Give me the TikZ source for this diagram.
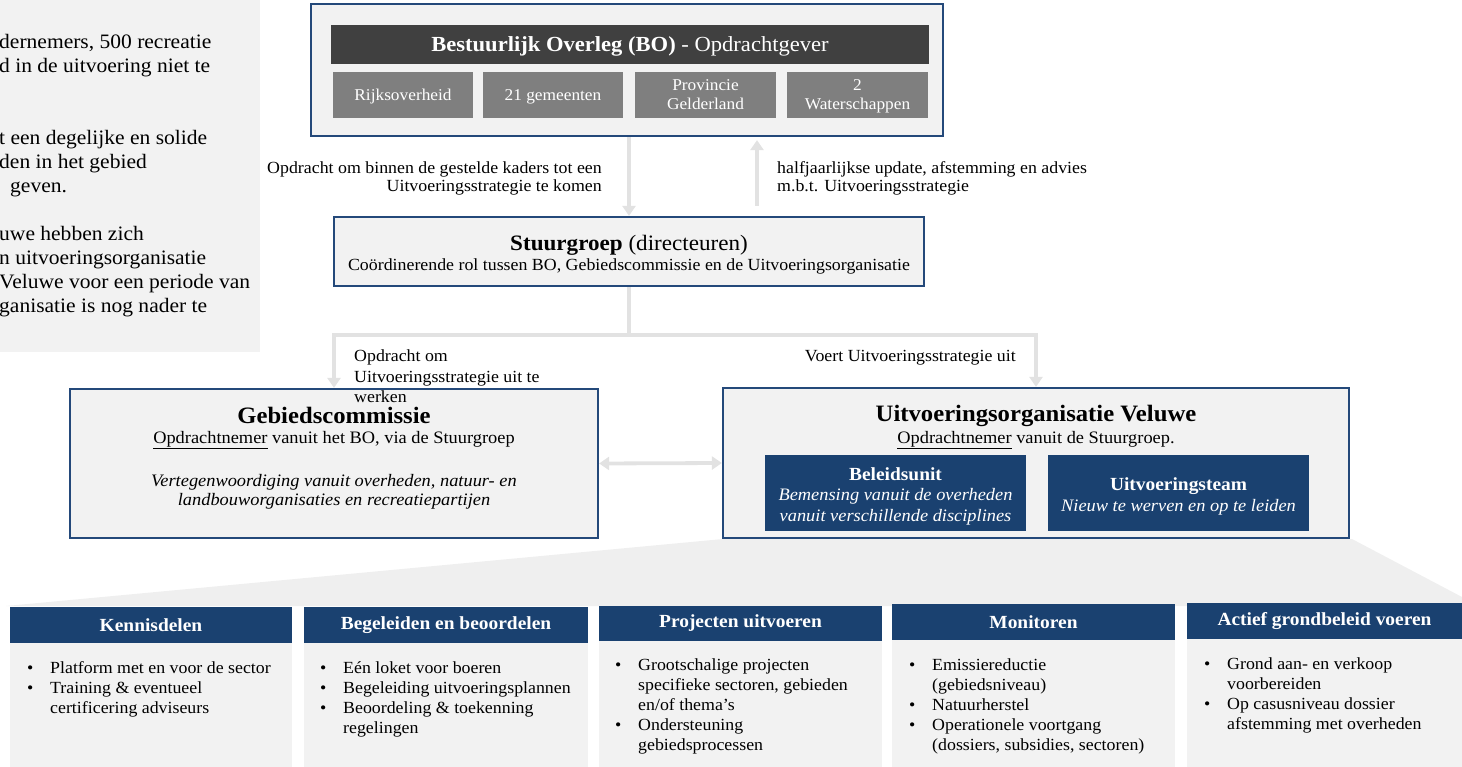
\documentclass[tikz,border=0pt]{standalone}
\usepackage{fontspec}
\setmainfont[FakeStretch=1.05]{Liberation Serif}
\usetikzlibrary{arrows.meta,calc}
\definecolor{navy}{HTML}{1A4170}
\definecolor{bord}{HTML}{24497A}
\definecolor{lg}{HTML}{F2F2F2}
\definecolor{mg}{HTML}{7F7F7F}
\definecolor{dg}{HTML}{404040}
\definecolor{cg}{HTML}{E2E2E2}
\definecolor{wedgec}{HTML}{EFEFEF}
\newcommand\fsz[2]{\fontsize{#1}{#2}\selectfont}
\newcommand\rbox[7]{\node[#1, minimum width={#5-#3}, minimum height={#6-#4}] (#2) at ({(#3+#5)/2},{(#4+#6)/2}) {#7};}
\newcommand\blist[1]{\begin{tabular}[t]{@{}p{23pt}@{}l@{}}#1\end{tabular}}
\tikzset{
  panel/.style={draw=bord, line width=2.2pt, fill=lg, inner sep=0pt},
  plain/.style={fill=lg, inner sep=0pt},
  gbox/.style={fill=mg, inner sep=0pt},
  dbox/.style={fill=dg, inner sep=0pt},
  nbox/.style={fill=navy, inner sep=0pt},
  hdr/.style={fill=navy, inner sep=0pt, text=white, font=\bfseries\fsz{18.5}{22}},
  txt/.style={inner sep=0pt, anchor=base, font=\fsz{17}{20}},
  btxt/.style={inner sep=0pt, anchor=base, font=\fsz{17.5}{20}},
  wtxt/.style={txt, text=white},
  ltxt/.style={inner sep=0pt, anchor=base west, font=\fsz{20.5}{24}},
  conn/.style={draw=cg, line width=3.8pt},
  tip/.style={-{Triangle[width=13pt,length=10pt]}},
  tips/.style={{Triangle[width=13pt,length=10pt]}-{Triangle[width=13pt,length=10pt]}},
  bl/.style={inner sep=0pt, anchor=base west, font=\fsz{17}{20}},
}
\begin{document}
\begin{tikzpicture}[x=1pt,y=-1pt]
\useasboundingbox (0,0) rectangle (1462,767);

% left panel
\rbox{plain}{leftp}{-5}{0}{260}{352}{}
\foreach \t/\yy in {dernemers{,} 500 recreatie/49, d in de uitvoering niet te/73, t een degelijke en solide/145, den in het gebied/169, uwe hebben zich/241, n uitvoeringsorganisatie/265, ganisatie is nog nader te/313}
  \node[ltxt] at (-1,\yy) {\t};
\node[ltxt] (lv) at (-1,289) {Veluwe voor een periode van};
\node[ltxt] (lg) at (10,193) {geven.};

% Bestuurlijk Overleg
\rbox{panel}{bo}{311}{4}{943}{136}{}
\rbox{dbox}{bohdr}{331}{25}{929}{64}{}
\node[wtxt, font=\fsz{21.5}{24}] (botitle) at (630,52) {\textbf{Bestuurlijk Overleg (BO)} - Opdrachtgever};
\rbox{gbox}{g1}{333}{72}{473}{118}{}
\rbox{gbox}{g2}{483}{72}{623}{118}{}
\rbox{gbox}{g3}{635}{72}{776}{118}{}
\rbox{gbox}{g4}{787}{72}{928}{118}{}
\node[wtxt, font=\fsz{16.5}{19}] at (403,101) {Rijksoverheid};
\node[wtxt, font=\fsz{16.5}{19}] at (553,101) {21 gemeenten};
\node[wtxt, font=\fsz{16.5}{19}] at (705.5,91) {Provincie};
\node[wtxt, font=\fsz{16.5}{19}] at (705.5,110) {Gelderland};
\node[wtxt, font=\fsz{16.5}{19}] at (857.5,91) {2};
\node[wtxt, font=\fsz{16.5}{19}] at (857.5,110) {Waterschappen};

% Stuurgroep
\rbox{panel}{sg}{334}{217}{924}{286}{}
\node[txt, font=\fsz{22}{24}] (sgt) at (629,251) {\textbf{Stuurgroep} (directeuren)};
\node[txt] at (629,271) {Coördinerende rol tussen BO, Gebiedscommissie en de Uitvoeringsorganisatie};

% arrows BO <-> Stuurgroep
\draw[conn, tip] (sg.north |- bo.south) -- (sg.north);
\draw[conn, tip] ($(sg.north)+(128,-10)$) -- ($(sg.north |- bo.south)+(128,3)$);
\node[txt, anchor=base east] at (602,174) {Opdracht om binnen de gestelde kaders tot een};
\node[txt, anchor=base east] at (602,192) {Uitvoeringsstrategie te komen};
\node[txt, anchor=base west] at (777,174) {halfjaarlijkse update, afstemming en advies};
\node[txt, anchor=base west] at (777,192) {m.b.t. Uitvoeringsstrategie};

% wedge
\fill[wedgec] (723,539) -- (1352,539) -- (1462,597) -- (1462,606) -- (6,606) -- cycle;

% Gebiedscommissie
\rbox{panel}{gc}{70}{389}{598}{538}{}
\node[btxt, font=\bfseries\fsz{23.5}{26}] at (334,423) {Gebiedscommissie};
\node[btxt] at (334,443) {\underline{Opdrachtnemer} vanuit het BO, via de Stuurgroep};
\node[btxt, font=\itshape\fsz{17.5}{20}] at (334,486) {Vertegenwoordiging vanuit overheden, natuur- en};
\node[btxt, font=\itshape\fsz{17.5}{20}] at (334,505) {landbouworganisaties en recreatiepartijen};

% Uitvoeringsorganisatie
\rbox{panel}{uo}{723}{388}{1349}{538}{}
\node[btxt, font=\bfseries\fsz{23.5}{26}] at (1036,421) {Uitvoeringsorganisatie Veluwe};
\node[btxt] at (1036,443) {\underline{Opdrachtnemer} vanuit de Stuurgroep.};
\rbox{nbox}{bu}{765}{455}{1026}{531}{}
\node[wtxt, font=\bfseries\fsz{18.5}{20}] at (895.5,480) {Beleidsunit};
\node[wtxt, font=\itshape\fsz{17.5}{20}] at (895.5,500) {Bemensing vanuit de overheden};
\node[wtxt, font=\itshape\fsz{17.5}{20}] at (895.5,521) {vanuit verschillende disciplines};
\rbox{nbox}{ut}{1048}{455}{1309}{531}{}
\node[wtxt, font=\bfseries\fsz{18.5}{20}] at (1178.5,490) {Uitvoeringsteam};
\node[wtxt, font=\itshape\fsz{17.5}{20}] at (1178.5,511) {Nieuw te werven en op te leiden};

% Stuurgroep -> branches
\coordinate (jn) at (629,335);
\draw[conn] (sg.south) -- (jn);
\draw[conn, tip] (jn) -| (gc.north);
\draw[conn, tip] (jn) -| (uo.north);
\draw[conn, tips] (gc.east) -- (uo.west);
\node[bl] at (354,362) {Opdracht om};
\node[bl] at (354,382) {Uitvoeringsstrategie uit te};
\node[bl] at (354,402) {werken};
\node[txt, anchor=base east] at (1016,362) {Voert Uitvoeringsstrategie uit};

% bottom columns
\rbox{plain}{b1}{10}{643}{292}{767}{}
\rbox{hdr}{h1}{10}{607}{292}{643}{Kennisdelen}
\rbox{plain}{b2}{304}{643}{588}{767}{}
\rbox{hdr}{h2}{304}{607}{588}{643}{Begeleiden en beoordelen}
\rbox{plain}{b3}{599}{641}{882}{767}{}
\rbox{hdr}{h3}{599}{606}{882}{641}{Projecten uitvoeren}
\rbox{plain}{b4}{892}{640}{1175}{767}{}
\rbox{hdr}{h4}{892}{604}{1175}{640}{Monitoren}
\rbox{plain}{b5}{1187}{639}{1462}{767}{}
\rbox{hdr}{h5}{1187}{603}{1462}{639}{Actief grondbeleid voeren}

\node[bl] (l1) at (27,673) {\blist{•&Platform met en voor de sector\\ •&Training \& eventueel\\ &certificering adviseurs}};
\node[bl] (l2) at (320,673) {\blist{•&Eén loket voor boeren\\ •&Begeleiding uitvoeringsplannen\\ •&Beoordeling \& toekenning\\ &regelingen}};
\node[bl] (l3) at (615,670) {\blist{•&Grootschalige projecten\\ &specifieke sectoren, gebieden\\ &en/of thema’s\\ •&Ondersteuning\\ &gebiedsprocessen}};
\node[bl] (l4) at (909,670) {\blist{•&Emissiereductie\\ &(gebiedsniveau)\\ •&Natuurherstel\\ •&Operationele voortgang\\ &(dossiers, subsidies, sectoren)}};
\node[bl] (l5) at (1204,669) {\blist{•&Grond aan- en verkoop\\ &voorbereiden\\ •&Op casusniveau dossier\\ &afstemming met overheden}};
\end{tikzpicture}
\end{document}
